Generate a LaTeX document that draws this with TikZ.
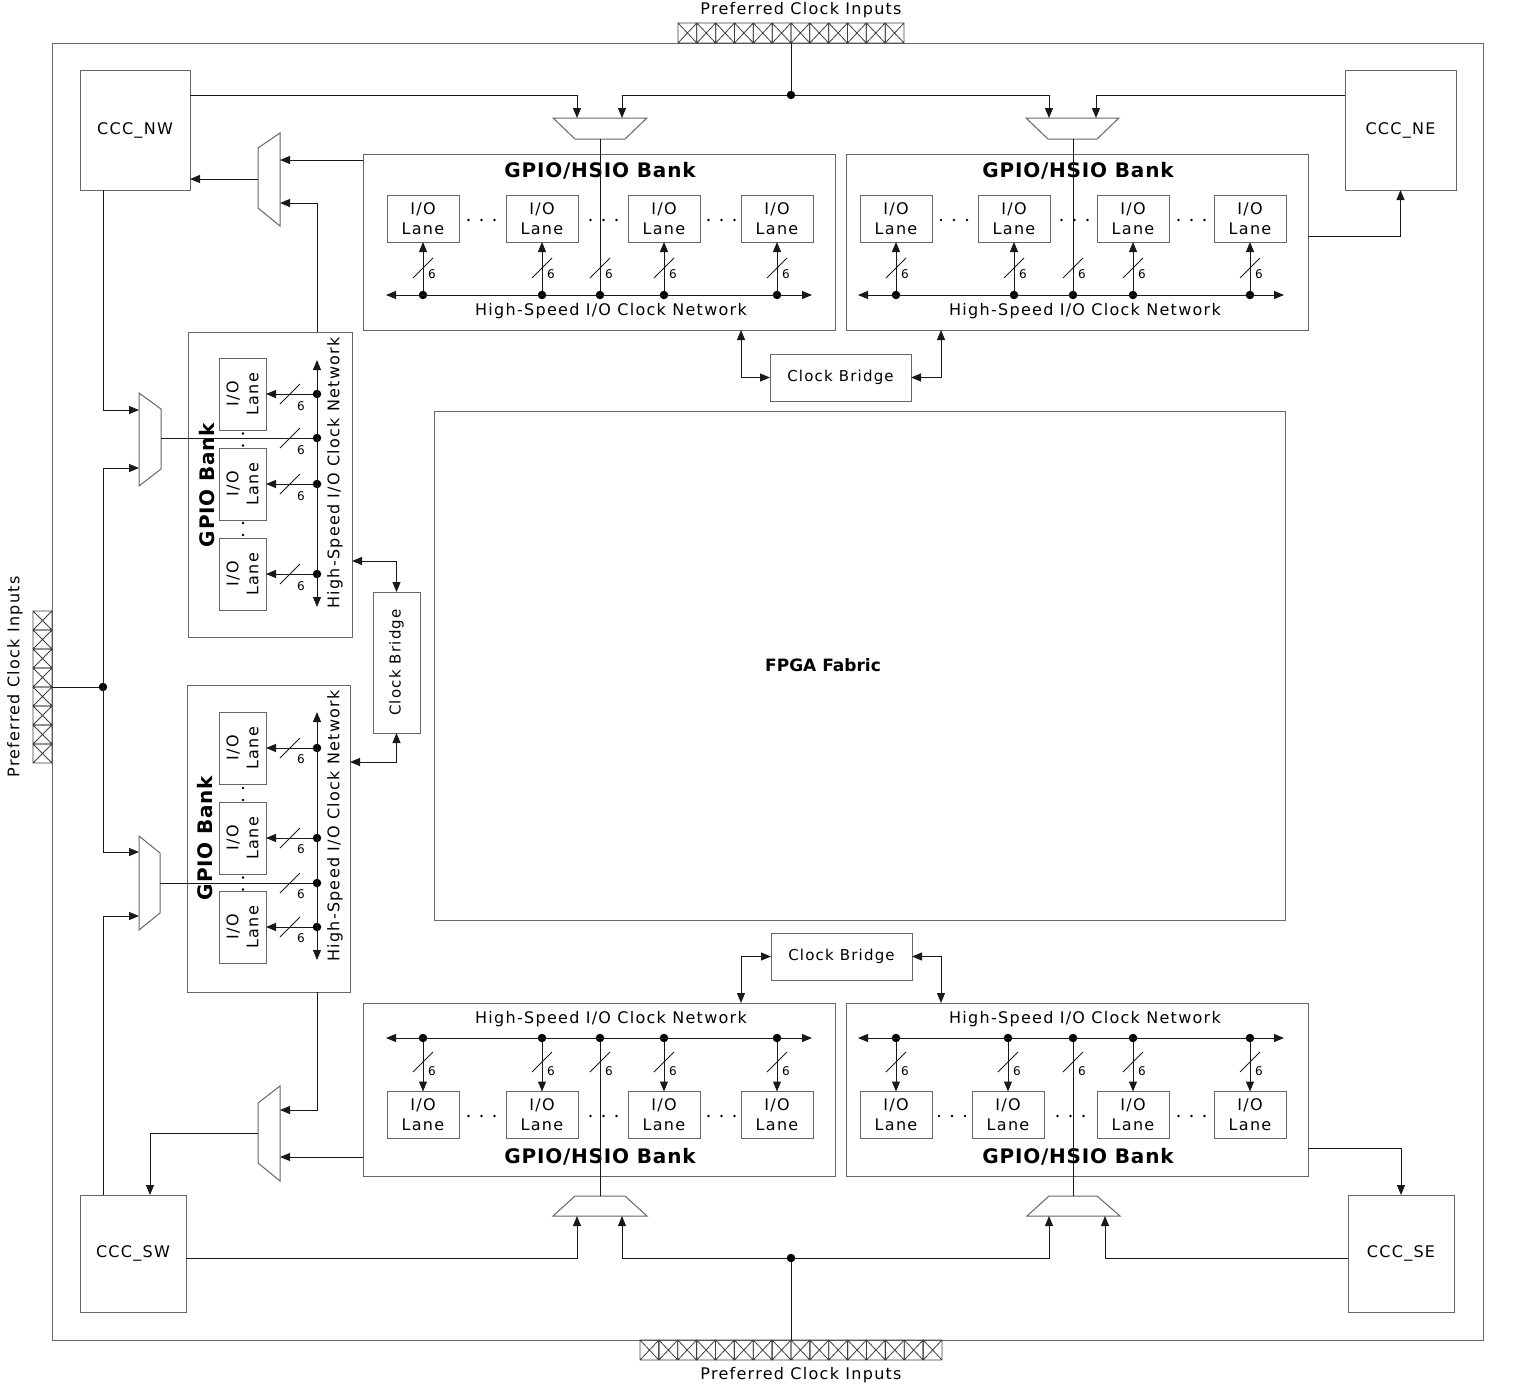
\documentclass[tikz,border=0pt]{standalone}
\usepackage{fontspec}
\setmainfont{DejaVu Sans}
\newfontfamily\lsp{DejaVu Sans}[LetterSpace=8]
\newfontfamily\bsp{DejaVu Sans}[LetterSpace=4]
\usetikzlibrary{arrows.meta}
\newcommand{\fsz}[2]{\fontsize{#1}{#2}\selectfont}
\tikzset{
  bx/.style={draw=black!60, line width=1pt, inner sep=0pt, outer sep=0pt, rectangle},
  cn/.style={draw=black!90, line width=1pt},
  ar/.style={cn, -{Triangle[length=10pt,width=8pt]}},
  dar/.style={cn, {Triangle[length=10pt,width=8pt]}-{Triangle[length=10pt,width=8pt]}},
  lane/.style={bx, minimum width=72pt, minimum height=47pt, align=center, font=\lsp\fsz{16}{20}},
  vlane/.style={lane, rotate=90},
  dotc/.style={circle, fill=black, draw=none, inner sep=0pt, outer sep=0pt, minimum size=8.5pt},
  six/.style={font=\fsz{12}{14}, inner sep=0pt},
  muxs/.style={draw=black!60, line width=1pt, fill=white},
  pinst/.style={draw=black!75, line width=0.8pt},
  lbl/.style={font=\lsp\fsz{16}{19}, inner sep=0pt},
  ttl/.style={font=\bsp\bfseries\fsz{20}{24}, inner sep=0pt},
  ccc/.style={bx, font=\lsp\fsz{16}{19}},
}
\begin{document}
\begin{tikzpicture}[x=1pt,y=-1pt]
\useasboundingbox (0,0) rectangle (1521,1384);
% outer frame
\node[bx, minimum width=1431pt, minimum height=1297pt] (frame) at (767.5,691.5) {};
% preferred clock input pins
\foreach \i in {0,...,11} {
  \draw[pinst] (678+\i*18.833,23) rectangle ++(18.833,20)
     (678+\i*18.833,23) -- ++(18.833,20) (678+\i*18.833+18.833,23) -- ++(-18.833,20);
}
\foreach \i in {0,...,15} {
  \draw[pinst] (640+\i*18.875,1340) rectangle ++(18.875,20)
     (640+\i*18.875,1340) -- ++(18.875,20) (640+\i*18.875+18.875,1340) -- ++(-18.875,20);
}
\foreach \i in {0,...,7} {
  \draw[pinst] (33,611+\i*19) rectangle ++(19,19)
     (33,611+\i*19) -- ++(19,19) (52,611+\i*19) -- ++(-19,19);
}
\node[lbl] (ptop) at (801,10) {Preferred Clock Inputs};
\node[lbl] (pbot) at (801,1375) {Preferred Clock Inputs};
\node[lbl, rotate=90] (pleft) at (15,677) {Preferred Clock Inputs};
\coordinate (pt) at (791,43);
\coordinate (pb) at (791,1340);
\coordinate (pl) at (52,687);

% CCC blocks
\node[ccc, minimum width=110pt, minimum height=120pt] (nw) at (135,130) {CCC\_NW};
\node[ccc, minimum width=111pt, minimum height=120pt] (ne) at (1400.5,130) {CCC\_NE};
\node[ccc, minimum width=106pt, minimum height=117pt] (sw) at (133,1253.5) {CCC\_SW};
\node[ccc, minimum width=106pt, minimum height=117pt] (se) at (1401,1253.5) {CCC\_SE};

% banks
\node[bx, minimum width=472pt, minimum height=176pt] (btl) at (599,242) {};
\node[bx, minimum width=462pt, minimum height=176pt] (btr) at (1077,242) {};
\node[bx, minimum width=472pt, minimum height=173pt] (bbl) at (599,1089.5) {};
\node[bx, minimum width=462pt, minimum height=173pt] (bbr) at (1077,1089.5) {};
\node[bx, minimum width=164pt, minimum height=305pt] (blu) at (270,484.5) {};
\node[bx, minimum width=163pt, minimum height=307pt] (bll) at (268.5,838.5) {};

\node[ttl] (ttl1) at (600,171) {GPIO/HSIO Bank};
\node[ttl] (ttl2) at (1078,171) {GPIO/HSIO Bank};
\node[ttl] (ttl3) at (600,1157) {GPIO/HSIO Bank};
\node[ttl] (ttl4) at (1078,1157) {GPIO/HSIO Bank};
\node[ttl, rotate=90] (ttl5) at (207,485) {GPIO Bank};
\node[ttl, rotate=90] (ttl6) at (205,838) {GPIO Bank};

\node[lbl] (ntl) at (611,311) {High-Speed I/O Clock Network};
\node[lbl] (ntr) at (1085,311) {High-Speed I/O Clock Network};
\node[lbl] (nbl) at (611,1019) {High-Speed I/O Clock Network};
\node[lbl] (nbr) at (1085,1019) {High-Speed I/O Clock Network};
\node[lbl, rotate=90] (nlu) at (335,473) {High-Speed I/O Clock Network};
\node[lbl, rotate=90] (nll) at (335,826) {High-Speed I/O Clock Network};

% fabric and bridges
\node[bx, minimum width=851pt, minimum height=509pt] (fab) at (859.5,665.5) {};
\node[font=\bfseries\fsz{17}{20}] (fabt) at (823,665) {FPGA Fabric};
\node[bx, minimum width=141pt, minimum height=47pt, font=\lsp\fsz{15}{18}] (cbt) at (840.5,377.5) {Clock Bridge};
\node[bx, minimum width=141pt, minimum height=47pt, font=\lsp\fsz{15}{18}] (cbb) at (841.5,956.5) {Clock Bridge};
\node[bx, minimum width=47pt, minimum height=141pt, font=\lsp\fsz{15}{18}] (cbl) at (396.5,662.5) {\rotatebox{90}{Clock Bridge}};

% ---------- top-left / bottom-left horizontal banks
\foreach \x [count=\i] in {423,542,664,777} {
  \node[lane] (tl\i) at (\x,218.5) {I/O\\Lane};
  \node[lane] (bl\i) at (\x,1115) {I/O\\Lane};
}
\foreach \x [count=\i] in {423,542,600,664,777} {
  \node[dotc] (dtl\i) at (\x,295) {};
  \node[dotc] (dbl\i) at (\x,1038) {};
  \draw[cn] (\x-10,278) -- (\x+10,258);
  \node[six] at (\x+9,274) {6};
  \draw[cn] (\x-10,1072) -- (\x+10,1052);
  \node[six] at (\x+9,1071) {6};
}
\foreach \i/\j in {1/1,2/2,4/3,5/4} {
  \draw[ar] (dtl\i) -- (tl\j);
  \draw[ar] (dbl\i) -- (bl\j);
}
\draw[dar] (386,295) -- (812,295);
\draw[dar] (386,1038) -- (812,1038);

% ---------- top-right / bottom-right banks
\foreach \x [count=\i] in {896,1014,1133,1250} {
  \node[lane] (tr\i) at (\x,218.5) {I/O\\Lane};
}
\foreach \x [count=\i] in {896,1008,1133,1250} {
  \node[lane] (br\i) at (\x,1115) {I/O\\Lane};
}
\foreach \x [count=\i] in {896,1014,1073,1133,1250} {
  \node[dotc] (dtr\i) at (\x,295) {};
  \draw[cn] (\x-10,278) -- (\x+10,258);
  \node[six] at (\x+9,274) {6};
}
\foreach \x [count=\i] in {896,1008,1073,1133,1250} {
  \node[dotc] (dbr\i) at (\x,1038) {};
  \draw[cn] (\x-10,1072) -- (\x+10,1052);
  \node[six] at (\x+9,1071) {6};
}
\foreach \i/\j in {1/1,2/2,4/3,5/4} {
  \draw[ar] (dtr\i) -- (tr\j);
  \draw[ar] (dbr\i) -- (br\j);
}
\draw[dar] (858,295) -- (1284,295);
\draw[dar] (858,1038) -- (1284,1038);

% ellipsis dots in horizontal banks
\foreach \c in {481.5,603.5,721.5} {
  \foreach \d in {-13,0,13} {
    \fill (\c+\d,220) circle (1.3pt);
    \fill (\c+\d,1116) circle (1.3pt);
  }
}
\foreach \c in {954,1074.5,1191.5} {
  \foreach \d in {-13,0,13} { \fill (\c+\d,220) circle (1.3pt); }
}
\foreach \c in {952,1070.5,1191.5} {
  \foreach \d in {-13,0,13} { \fill (\c+\d,1116) circle (1.3pt); }
}

% ---------- left vertical banks
\foreach \y [count=\i] in {394,484,574} {
  \node[vlane] (lu\i) at (242.5,\y) {I/O\\Lane};
}
\foreach \y [count=\i] in {748,838,927} {
  \node[vlane] (ll\i) at (242.5,\y) {I/O\\Lane};
}
\foreach \y [count=\i] in {394,438,484,574} {
  \node[dotc] (dlu\i) at (317,\y) {};
  \draw[cn] (280,\y+10) -- (300,\y-10);
  \node[six] at (301,\y+12) {6};
}
\foreach \y [count=\i] in {748,838,883,927} {
  \node[dotc] (dll\i) at (317,\y) {};
  \draw[cn] (280,\y+10) -- (300,\y-10);
  \node[six] at (301,\y+11) {6};
}
\foreach \i/\j in {1/1,3/2,4/3} { \draw[ar] (dlu\i) -- (lu\j); }
\foreach \i/\j in {1/1,2/2,4/3} { \draw[ar] (dll\i) -- (ll\j); }
\draw[dar] (317,360) -- (317,607);
\draw[dar] (317,712) -- (317,960);
\foreach \c in {439.5,529,794,883.5} {
  \foreach \d in {-6,6} { \fill (243,\c+\d) circle (1.3pt); }
}

% ---------- multiplexers
\draw[muxs] (553,118) -- (647,118) -- (625,139) -- (575,139) -- cycle;
\coordinate (mtlA) at (577,118); \coordinate (mtlB) at (622,118); \coordinate (mtlO) at (600,139);
\draw[muxs] (1026,118) -- (1119,118) -- (1097,139) -- (1048,139) -- cycle;
\coordinate (mtrA) at (1049,118); \coordinate (mtrB) at (1096,118); \coordinate (mtrO) at (1073,139);
\draw[muxs] (575,1196) -- (625,1196) -- (647,1216) -- (553,1216) -- cycle;
\coordinate (mblA) at (577,1216); \coordinate (mblB) at (622,1216); \coordinate (mblO) at (600,1196);
\draw[muxs] (1049,1196) -- (1097,1196) -- (1120,1216) -- (1027,1216) -- cycle;
\coordinate (mbrA) at (1049,1216); \coordinate (mbrB) at (1105,1216); \coordinate (mbrO) at (1073,1196);
\draw[muxs] (258,148) -- (280,133) -- (280,226) -- (258,208) -- cycle;
\coordinate (mnwA) at (280,160); \coordinate (mnwB) at (280,203); \coordinate (mnwO) at (258,179);
\draw[muxs] (258,1103) -- (280,1086) -- (280,1181) -- (258,1163) -- cycle;
\coordinate (mswA) at (280,1110); \coordinate (mswB) at (280,1157); \coordinate (mswO) at (258,1133);
\draw[muxs] (139,393) -- (161,409) -- (161,469) -- (139,486) -- cycle;
\coordinate (m1A) at (139,410); \coordinate (m1B) at (139,468); \coordinate (m1O) at (161,438);
\draw[muxs] (139,836) -- (160,853) -- (160,913) -- (139,930) -- cycle;
\coordinate (m2A) at (139,852); \coordinate (m2B) at (139,916); \coordinate (m2O) at (160,883);

% ---------- top connections
\node[dotc] (jt) at (791,95) {};
\draw[cn] (pt) -- (jt);
\draw[ar] (jt) -| (mtlB);
\draw[ar] (jt) -| (mtrA);
\draw[ar] (nw.east |- jt) -| (mtlA);
\draw[ar] (ne.west |- jt) -| (mtrB);
\draw[cn] (mtlO) -- (dtl3);
\draw[cn] (mtrO) -- (dtr3);

% ---------- bottom connections
\node[dotc] (jb) at (791,1258) {};
\draw[cn] (pb) -- (jb);
\draw[ar] (jb) -| (mblB);
\draw[ar] (jb) -| (mbrA);
\draw[ar] (sw.east |- jb) -| (mblA);
\draw[ar] (se.west |- jb) -| (mbrB);
\draw[cn] (dbl3) -- (mblO);
\draw[cn] (dbr3) -- (mbrO);

% ---------- NW / SW mux connections
\coordinate (cu) at (317,332);
\coordinate (cl) at (317,992);
\draw[ar] (btl.west |- mnwA) -- (mnwA);
\draw[ar] (cu) |- (mnwB);
\draw[ar] (mnwO) -- (nw.east |- mnwO);
\draw[ar] (cl) |- (mswA);
\draw[ar] (bbl.west |- mswB) -- (mswB);
\coordinate (swt2) at (150,1195);
\draw[ar] (mswO) -| (swt2);

% ---------- left muxes
\coordinate (nwb) at (103,190);
\coordinate (swt) at (103,1195);
\node[dotc] (jl) at (103,687) {};
\draw[ar] (nwb) |- (m1A);
\draw[dar] (m1B) -- (103,468) -- (103,852) -- (m2A);
\draw[cn] (pl) -- (jl);
\draw[ar] (swt) |- (m2B);
\draw[cn] (m1O) -- (dlu2);
\draw[cn] (m2O) -- (dll3);

% ---------- right CCC connections
\coordinate (trr) at (1308,236);
\coordinate (brr) at (1308,1148);
\draw[ar] (trr) -| (ne.south);
\draw[ar] (brr) -| (se.north);

% ---------- clock bridges
\coordinate (cb1) at (741,330); \coordinate (cb2) at (941,330);
\coordinate (cb3) at (741,1003); \coordinate (cb4) at (941,1003);
\coordinate (cb5) at (352,561); \coordinate (cb6) at (350,762);
\draw[dar] (cb1) |- (cbt.west);
\draw[dar] (cb2) |- (cbt.east);
\draw[dar] (cb3) |- (cbb.west);
\draw[dar] (cb4) |- (cbb.east);
\draw[dar] (cb5) -| (cbl.north);
\draw[dar] (cb6) -| (cbl.south);
\end{tikzpicture}
\end{document}
